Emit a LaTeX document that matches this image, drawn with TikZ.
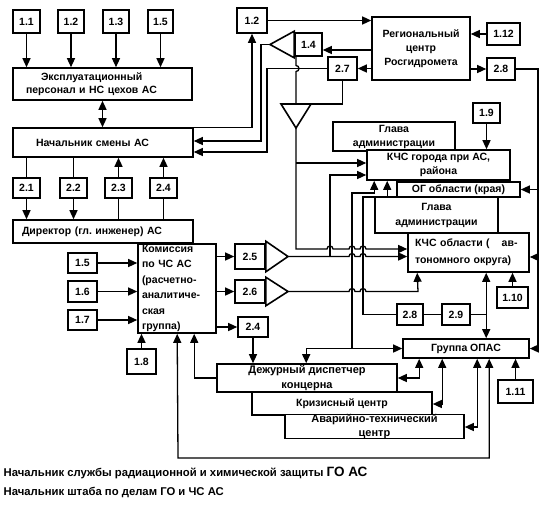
\documentclass[tikz,border=0pt]{standalone}
\usepackage{fontspec}
\setmainfont{Liberation Sans}
\usetikzlibrary{arrows.meta,calc}
\newcommand\mkbox[7][]{\node[bx,minimum width={(#5-#3)*1pt},minimum height={(#6-#4)*1pt},#1] (#2) at ({(#3+#5)/2},{(#4+#6)/2}) {#7};}
\newcommand\fs[1]{\fontsize{10.5}{#1}\selectfont\bfseries}
\newcommand\fsL[1]{\fontsize{11}{#1}\selectfont\bfseries}
\newcommand\fsC{\fontsize{11.3}{13}\selectfont\bfseries}
\begin{document}
\begin{tikzpicture}[x=1pt,y=-1pt,line width=1.3pt,
  every node/.style={font=\fs{12}},
  bx/.style={draw,line width=1.6pt,fill=white,inner sep=1pt,align=center},
  ar/.style={-{Triangle[length=9pt,width=8pt]}},
  ar2/.style={{Triangle[length=9pt,width=8pt]}-{Triangle[length=9pt,width=8pt]}},
  tri/.style={draw,line width=1.6pt,fill=white,line join=miter}]
\useasboundingbox (0,0) rectangle (545,504);
% ---------- boxes ----------
\mkbox{a11}{13}{10}{40}{33}{1.1}
\mkbox{a12}{58}{10}{84}{33}{1.2}
\mkbox{a13}{103}{10}{129}{33}{1.3}
\mkbox{a15}{148}{10}{173}{33}{1.5}
\mkbox[align=left,text width=153pt,inner xsep=13pt,font=\fs{13}]{expl}{13}{68}{192}{100}{\hspace*{15pt}Эксплуатационный\\персонал и НС цехов АС}
\mkbox[align=left,text width=134pt,inner xsep=23pt]{nach}{13}{128}{193}{157}{Начальник смены АС}
\mkbox{b21}{13}{178}{40}{198}{2.1}
\mkbox{b22}{60}{178}{87}{198}{2.2}
\mkbox{b23}{105}{178}{132}{198}{2.3}
\mkbox{b24}{150}{178}{177}{198}{2.4}
\mkbox[align=left,text width=162pt,inner xsep=9pt]{dir}{13}{220}{193}{243}{Директор (гл.~инженер) АС}
\mkbox[align=left,text width=70pt,inner xsep=4pt,font=\fs{15.4}]{kom}{138}{244}{216}{333}{Комиссия\\по ЧС АС\\(расчетно-\\аналитиче-\\ская\\группа)}
\mkbox{c15}{68}{253}{97}{273}{1.5}
\mkbox{c16}{68}{281}{97}{302}{1.6}
\mkbox{c17}{68}{310}{97}{330}{1.7}
\mkbox{c18}{127}{349}{156}{374}{1.8}
\mkbox{d25}{235}{244}{265}{269}{2.5}
\mkbox{d26}{235}{280}{265}{303}{2.6}
\mkbox{d24}{238}{317}{268}{337}{2.4}
\mkbox[font=\fsL{15}]{dej}{217}{364}{397}{392}{Дежурный диспетчер\\концерна}
\mkbox{kriz}{252}{392}{432}{415}{Кризисный центр}
\mkbox[font=\fsL{13.5},inner ysep=0pt]{avar}{285}{415}{464}{438}{Аварийно-технический\\центр}
\mkbox{grp}{403}{339}{529}{358}{Группа ОПАС}
\mkbox{e111}{498}{380}{533}{403}{1.11}
\mkbox{e110}{497}{287}{528}{308}{1.10}
\mkbox{e28}{397}{304}{423}{325}{2.8}
\mkbox{e29}{442}{304}{470}{325}{2.9}
\mkbox[font=\fs{14},inner ysep=0pt]{glava1}{333}{122}{455}{151}{Глава\\администрации}
\mkbox[font=\fs{14}]{kgor}{367}{150}{510}{180}{КЧС города при АС,\\района}
\mkbox[inner ysep=0pt]{og}{397}{182}{520}{197}{ОГ области (края)}
\mkbox[font=\fs{15}]{glava2}{375}{197}{498}{233}{Глава\\администрации}
\mkbox[align=left,text width=107pt,inner xsep=7pt,font=\fs{17}]{kob}{408}{233}{529}{272}{КЧС области (\hspace{12pt}ав-\\тономного округа)}
\mkbox{f19}{473}{103}{500}{123}{1.9}
\mkbox[font=\fs{14}]{reg}{372}{17}{470}{80}{Региональный\\центр\\Росгидромета}
\mkbox{g112}{487}{23}{520}{45}{1.12}
\mkbox{g28}{487}{58}{515}{80}{2.8}
\mkbox{g27}{328}{57}{357}{80}{2.7}
\mkbox{g14}{295}{33}{322}{56}{1.4}
\mkbox{g12}{237}{8}{267}{33}{1.2}
% ---------- triangles ----------
\coordinate (t14) at (270,44.5);
\draw[tri] ([yshift=1pt]g14.north west) -- (t14) -- ([yshift=-1pt]g14.south west) -- cycle;
\coordinate (antT) at (296,104);
\coordinate (ant) at (296,128);
\draw[tri] (281,104) -- (311,104) -- (ant) -- cycle;
\coordinate (t25) at (288,256.5);
\draw[tri] ([yshift=2pt]d25.north east) -- (t25) -- ([yshift=-2pt]d25.south east) -- cycle;
\coordinate (t26) at (288,291.5);
\draw[tri] ([yshift=2pt]d26.north east) -- (t26) -- ([yshift=-2pt]d26.south east) -- cycle;
% ---------- connectors ----------
\foreach \n in {a11,a12,a13,a15} \draw[ar] (\n.south) -- (\n.south |- expl.north);
\draw[ar2] (expl.south) -- (expl.south |- nach.north);
\draw (b21.north |- nach.south) -- (b21.north); \draw[ar] (b21.south) -- (b21.south |- dir.north);
\draw (b22.north |- nach.south) -- (b22.north); \draw[ar] (b22.south) -- (b22.south |- dir.north);
\draw (b23.south |- dir.north) -- (b23.south); \draw[ar] (b23.north) -- (b23.north |- nach.south);
\draw (b24.south |- dir.north) -- (b24.south); \draw[ar] (b24.north) -- (b24.north |- nach.south);
\draw[ar] (nach.north east) -| (g12.south);
\draw[ar] (t14) -| (261,141) -- (nach.east |- 0,141);
\draw[ar] (g27.west) -| (267,152) -- (nach.east |- 0,152);
\draw[ar] (g12.east) -- (g12.east -| reg.west);
\draw[ar] (g112.west) -- (g112.west -| reg.east);
\draw[ar] (reg.east |- g28.west) -- (g28.west);
\draw[ar] (reg.west |- g27.east) -- (g27.east);
\draw[ar] (reg.west |- 0,50) -- (g14.east |- 0,50);
\draw (g14.south -| antT) -- (296,65.5) arc[start angle=90,end angle=-90,radius=3pt] -- (antT);
\draw (g27.south) |- (antT);
\coordinate (rr) at (538,69);
\draw[ar] (g28.east) -| (rr |- grp.east) -- (grp.east);
\draw[ar] (rr |- og.east) -- (og.east);
\draw[ar] (rr |- 0,257) -- (kob.east |- 0,257);
\draw[ar] (f19.south) -- (f19.south |- kgor.north);
\draw[ar] (ant) -- (296,249) -- (327,249) arc[start angle=180,end angle=0,radius=3pt] -- (349,249) arc[start angle=180,end angle=0,radius=3pt] -- (360,249) arc[start angle=180,end angle=0,radius=3pt] -- (kob.west |- 0,249);
\draw[ar] (296,163) -- (kgor.west |- 0,163);
\draw[ar] (330,256.5) |- (kgor.west |- 0,175);
\draw[ar] (t25) -- (349,256.5) arc[start angle=180,end angle=0,radius=3pt] -- (360,256.5) arc[start angle=180,end angle=0,radius=3pt] -- (kob.west |- t25);
\draw[ar] (t26) -- (349,291.5) arc[start angle=180,end angle=0,radius=3pt] -- (360,291.5) arc[start angle=180,end angle=0,radius=3pt] -- (418,291.5) -- ($(kob.south west)+(10,0)$);
\coordinate (j1) at (352,348.5);
\draw[ar] (j1) -- (grp.west);
\draw[ar] (j1) -| ($(dej.north west)+(90,0)$);
\draw[ar] (j1) -- (352,193) -| ($(kgor.south west)+(8,0)$);
\draw[ar] (e28.west) -| (363,197) -| ($(kgor.south west)+(21,0)$);
\draw (e28.east) -- (e29.west);
\draw (e29.east) -- (487,314.5);
\draw[ar2] ($(kob.south west)+(79,0)$) -- ($(grp.north west)+(84,0)$);
\draw[ar] (e110.north) -- (e110.north |- kob.south);
\draw[ar] (e111.north) -- (e111.north |- grp.south);
\draw[ar2] (dej.east |- 0,378) -| ($(grp.south west)+(17,0)$);
\draw[ar2] (kriz.east |- 0,404) -| ($(grp.south west)+(40,0)$);
\draw[ar2] (avar.east |- 0,427) -| ($(grp.south west)+(75,0)$);
\draw[ar2] ($(kom.south west)+(40,0)$) -- (178,458) -| ($(grp.south west)+(87,0)$);
\draw[ar] (dej.west |- 0,378) -| ($(kom.south west)+(57,0)$);
\draw[ar] (c18.north) -- (c18.north |- kom.south);
\foreach \n in {c15,c16,c17} \draw[ar] (\n.east) -- (\n.east -| kom.west);
\draw[ar] (kom.east |- d25.west) -- (d25.west);
\draw[ar] (kom.east |- d26.west) -- (d26.west);
\draw[ar] (kom.east |- d24.west) -- (d24.west);
\draw[ar] (d24.south) -- (d24.south |- dej.north);
% ---------- captions ----------
\node[anchor=west,inner sep=0pt,font=\fsC] (cap1) at (3,473) {Начальник службы радиационной и химической защиты {\fontsize{13.5}{15}\selectfont ГО АС}};
\node[anchor=west,inner sep=0pt,font=\fsC] (cap2) at (3,492) {Начальник штаба по делам ГО и ЧС АС};
\end{tikzpicture}
\end{document}
